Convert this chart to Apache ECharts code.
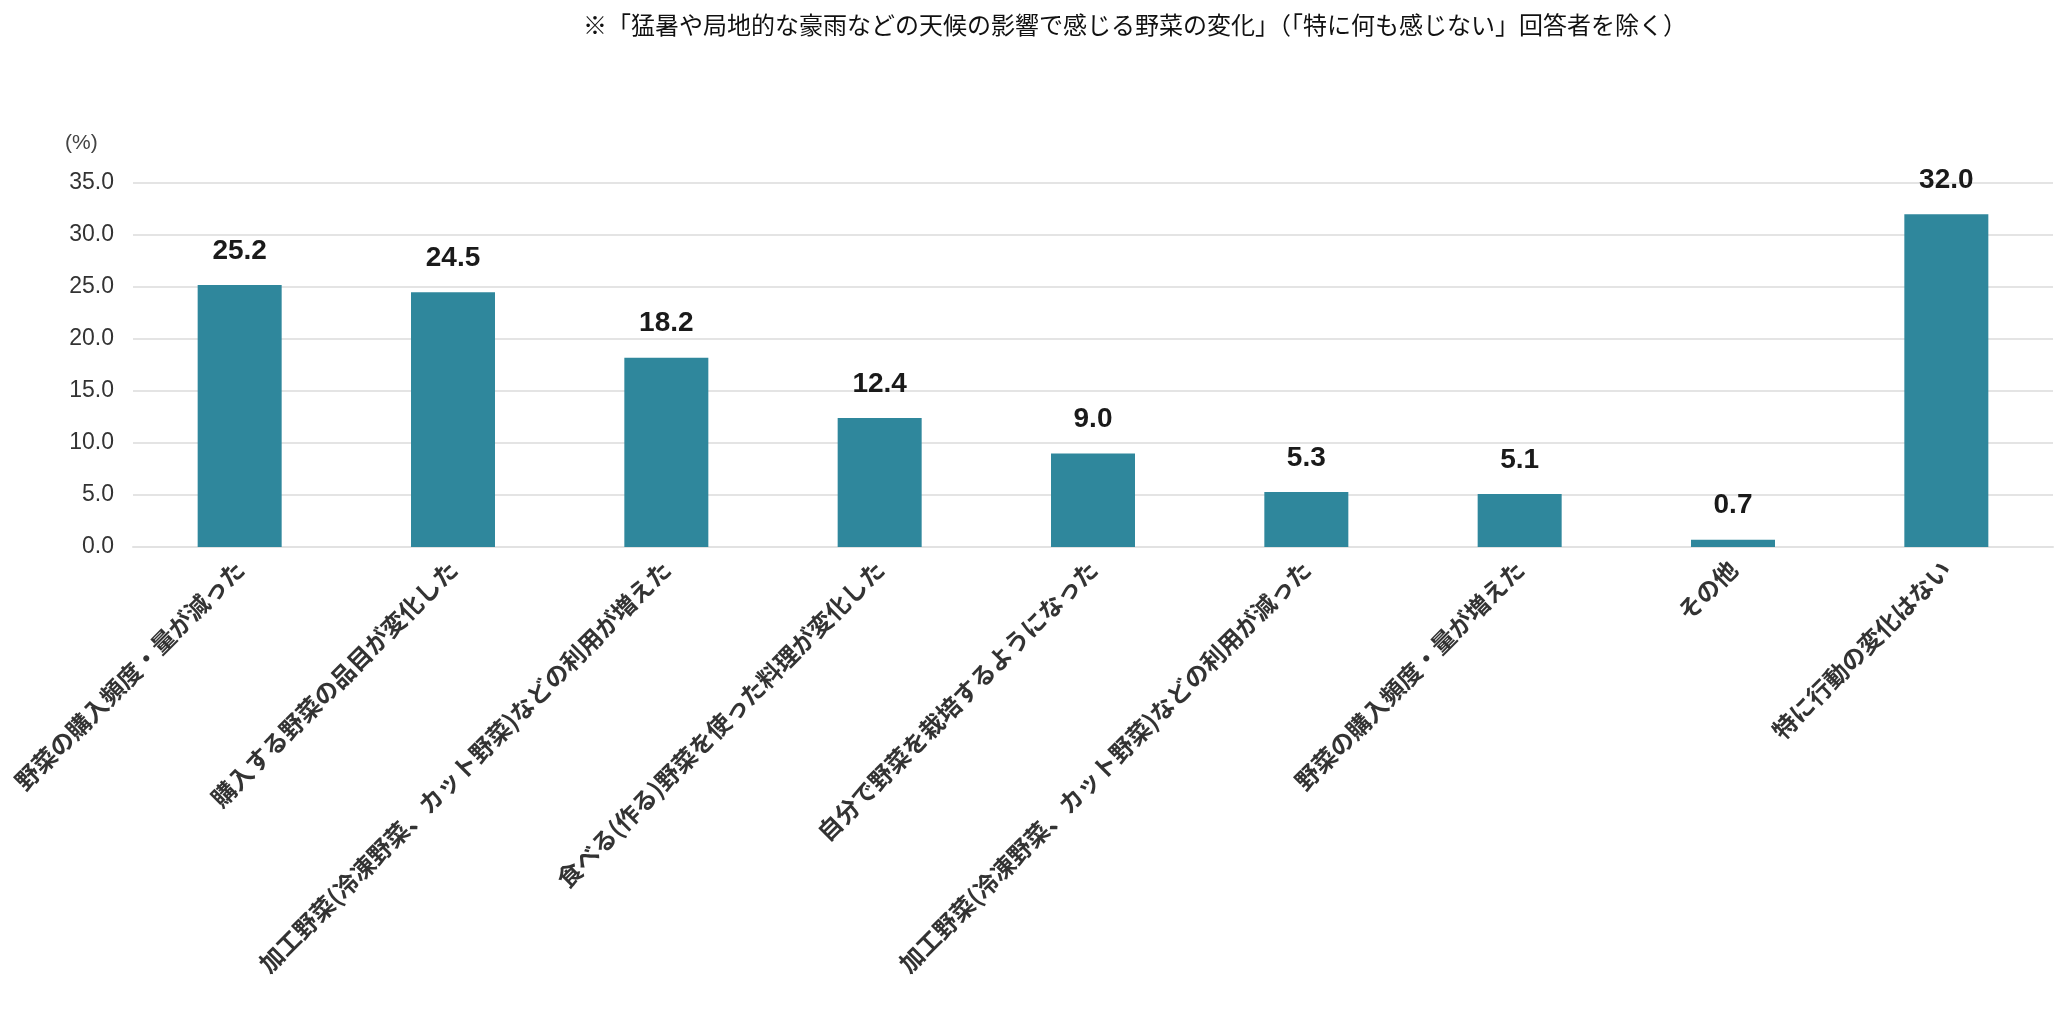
<!DOCTYPE html>
<html>
<head>
<meta charset="utf-8">
<script src="https://cdn.jsdelivr.net/npm/echarts@6/dist/echarts.min.js"></script>
<style>
html,body{margin:0;padding:0;background:#fff;}
#chart{width:2070px;height:1009px;}
</style>
</head>
<body>
<div id="chart"></div>
<script>
const titleText = '※「猛暑や局地的な豪雨などの天候の影響で感じる野菜の変化」（「特に何も感じない」回答者を除く）';
const unitLabel = '(%)';
const categories = [
  '野菜の購入頻度・量が減った',
  '購入する野菜の品目が変化した',
  '加工野菜(冷凍野菜、カット野菜)などの利用が増えた',
  '食べる(作る)野菜を使った料理が変化した',
  '自分で野菜を栽培するようになった',
  '加工野菜(冷凍野菜、カット野菜)などの利用が減った',
  '野菜の購入頻度・量が増えた',
  'その他',
  '特に行動の変化はない'
];
const values = [25.2, 24.5, 18.2, 12.4, 9.0, 5.3, 5.1, 0.7, 32.0];
const yMin = 0, yMax = 35, yInterval = 5;

const chart = echarts.init(document.getElementById('chart'));
chart.setOption({
  backgroundColor: '#ffffff',
  animation: false,
  title: [
    {
      text: titleText,
      left: 578, top: 8,
      textStyle: {fontFamily: 'Noto Sans CJK JP', fontSize: 24, fontWeight: 'normal', color: '#111'}
    },
    {
      text: unitLabel,
      left: 60, top: 128,
      textStyle: {fontFamily: 'Liberation Sans', fontSize: 21, fontWeight: 'normal', color: '#444'}
    }
  ],
  grid: {left: 133, right: 17, top: 183, bottom: 462, containLabel: false},
  xAxis: {
    type: 'category',
    data: categories,
    axisLine: {show: true, lineStyle: {color: '#e2e2e2', width: 2}},
    axisTick: {show: false},
    axisLabel: {
      interval: 0, rotate: 45, margin: 18,
      fontFamily: 'Noto Sans CJK JP', fontSize: 24, fontWeight: 'bold', color: '#333'
    }
  },
  yAxis: {
    type: 'value',
    min: yMin, max: yMax, interval: yInterval,
    axisLine: {show: false},
    axisTick: {show: false},
    splitLine: {lineStyle: {color: '#e4e4e4', width: 2}},
    axisLabel: {
      margin: 19,
      formatter: v => v.toFixed(1),
      fontFamily: 'Liberation Sans', fontSize: 23, color: '#333'
    }
  },
  series: [{
    type: 'bar',
    data: values,
    barWidth: 84,
    itemStyle: {color: '#2f879c'},
    label: {
      show: true, position: 'top', distance: 20,
      formatter: p => p.value.toFixed(1),
      fontFamily: 'Liberation Sans', fontSize: 28, fontWeight: 'bold', color: '#1a1a1a'
    }
  }]
});
</script>
</body>
</html>
